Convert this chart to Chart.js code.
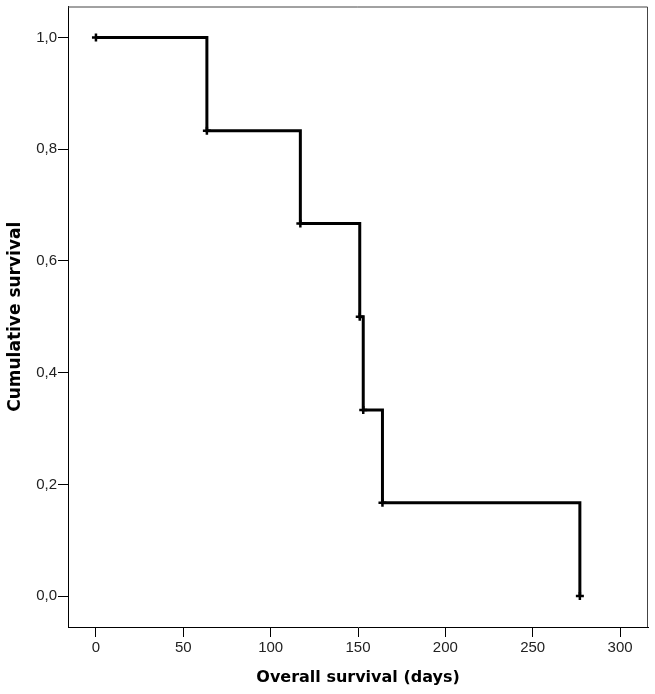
<!DOCTYPE html>
<html>
<head>
<meta charset="utf-8">
<script src="https://cdn.jsdelivr.net/npm/chart.js@4"></script>
<style>
  html, body { margin: 0; padding: 0; background: #fff; }
  #wrap { width: 655px; height: 694px; }
</style>
</head>
<body>
<div id="wrap"><canvas id="kmChart" width="655" height="694"></canvas></div>
<script>
// Kaplan-Meier step points (days, cumulative survival)
const days = [0, 63.5, 117, 151, 153, 164, 277];
const survival = [1.0, 0.833, 0.667, 0.5, 0.333, 0.167, 0.0];
const xTicks = [0, 50, 100, 150, 200, 250, 300];
const yTicks = [0, 0.2, 0.4, 0.6, 0.8, 1.0];

const points = days.map((d, i) => ({ x: d, y: survival[i] }));

// draws the box around the plot area (top and right sides)
const frame = {
    id: 'frame',
    afterDraw(chart) {
        const a = chart.chartArea;
        const c = chart.ctx;
        c.save();
        c.strokeStyle = '#444';
        c.lineWidth = 1;
        c.beginPath();
        c.moveTo(a.left, a.top + 0.5);
        c.lineTo(a.right - 0.5, a.top + 0.5);
        c.lineTo(a.right - 0.5, a.bottom);
        c.stroke();
        c.restore();
    }
};

const ctx = document.getElementById('kmChart').getContext('2d');
new Chart(ctx, {
    type: 'line',
    data: {
        datasets: [{
            data: points,
            stepped: 'before',
            borderColor: '#000',
            borderWidth: 3,
            fill: false,
            pointStyle: 'cross',
            pointRadius: 4,
            pointBorderWidth: 2.5,
            pointBorderColor: '#000',
            pointBackgroundColor: '#000'
        }]
    },
    options: {
        responsive: false,
        animation: false,
        layout: { padding: { top: 1, right: 7, left: 0, bottom: 0 } },
        plugins: {
            legend: { display: false },
            tooltip: { enabled: false }
        },
        scales: {
            x: {
                type: 'linear',
                min: -16,
                max: 316,
                afterBuildTicks: s => { s.ticks = xTicks.map(v => ({ value: v })); },
                afterFit: s => { s.height = 67; s.paddingLeft = 0; s.paddingRight = 0; },
                grid: { drawOnChartArea: false, drawTicks: true, tickLength: 10, tickColor: '#000' },
                border: { display: true, color: '#000', width: 1 },
                ticks: {
                    padding: 2,
                    color: '#222',
                    font: { family: 'Liberation Sans', size: 15 },
                    callback: v => String(v)
                },
                title: {
                    display: true,
                    text: 'Overall survival (days)',
                    color: '#000',
                    font: { family: 'DejaVu Sans', size: 16, weight: 'bold' },
                    padding: { top: 4, bottom: 7 }
                }
            },
            y: {
                type: 'linear',
                min: -0.0553,
                max: 1.0553,
                afterBuildTicks: s => { s.ticks = yTicks.map(v => ({ value: v })); },
                afterFit: s => { s.width = 68; s.paddingTop = 0; s.paddingBottom = 0; },
                grid: { drawOnChartArea: false, drawTicks: true, tickLength: 10, tickColor: '#000' },
                border: { display: true, color: '#000', width: 1 },
                ticks: {
                    padding: 1,
                    color: '#222',
                    font: { family: 'Liberation Sans', size: 15 },
                    callback: v => v.toFixed(1).replace('.', ',')
                },
                title: {
                    display: true,
                    text: 'Cumulative survival',
                    color: '#000',
                    font: { family: 'DejaVu Sans', size: 17, weight: 'bold' },
                    padding: { top: 5, bottom: 4 }
                }
            }
        }
    },
    plugins: [frame]
});
</script>
</body>
</html>
